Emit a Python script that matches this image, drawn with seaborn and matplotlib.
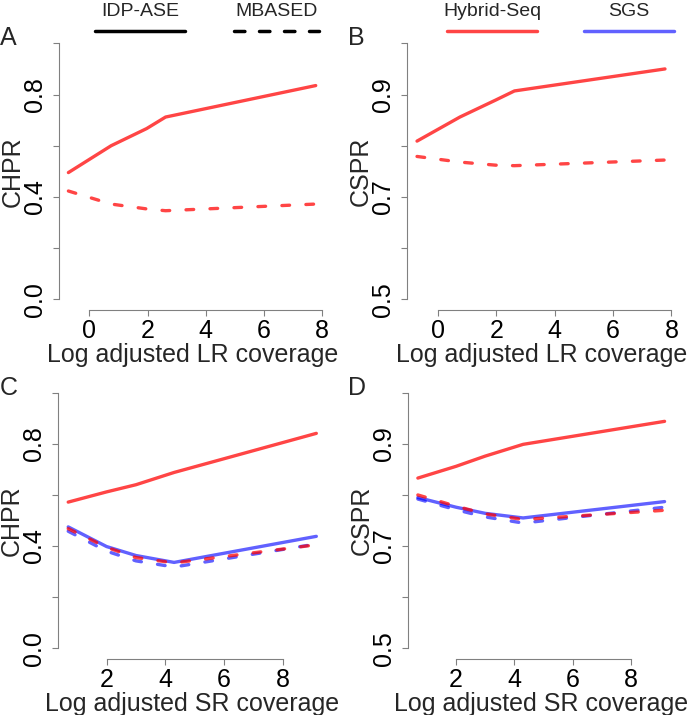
import matplotlib
matplotlib.use("Agg")
import matplotlib.pyplot as plt
import seaborn as sns
import numpy as np

sns.set_style("ticks")
plt.rcParams["font.family"] = ["Liberation Sans", "DejaVu Sans"]

# ---- data ----
lr_cov = [-0.72, 0.75, 1.97, 2.62, 7.78]
sr_cov = [0.69, 2.0, 3.0, 4.3, 9.15]

chpr_lr_hybrid_idp = [0.495, 0.600, 0.667, 0.712, 0.835]
chpr_lr_hybrid_mbased = [0.423, 0.372, 0.353, 0.346, 0.372]
cspr_lr_hybrid_idp = [0.809, 0.856, 0.889, 0.907, 0.950]
cspr_lr_hybrid_mbased = [0.779, 0.768, 0.762, 0.761, 0.772]

chpr_sr_hybrid_idp = [0.572, 0.612, 0.640, 0.688, 0.841]
chpr_sr_hybrid_mbased = [0.468, 0.395, 0.355, 0.334, 0.405]
chpr_sr_sgs_idp = [0.475, 0.398, 0.363, 0.336, 0.438]
chpr_sr_sgs_mbased = [0.458, 0.380, 0.342, 0.318, 0.408]

cspr_sr_hybrid_idp = [0.833, 0.856, 0.876, 0.899, 0.944]
cspr_sr_hybrid_mbased = [0.800, 0.778, 0.763, 0.752, 0.770]
cspr_sr_sgs_idp = [0.795, 0.776, 0.764, 0.755, 0.787]
cspr_sr_sgs_mbased = [0.792, 0.771, 0.757, 0.745, 0.776]

methods = ["IDP-ASE", "MBASED"]
platforms = ["Hybrid-Seq", "SGS"]
panel_letters = ["A", "B", "C", "D"]

# ---- style ----
RED = "#FF0000"
BLUE = "#0000FF"
ALPHA = {RED: 0.73, BLUE: 0.62}
LW = 2.4
DASH = (0, (2.3, 4.9))
AX_COLOR = "#808080"
FS = 18

W, H = 692, 715
fig = plt.figure(figsize=(W / 100, H / 100), dpi=100)


def add_ax(l, r, t, b):
    return fig.add_axes([l / W, 1 - b / H, (r - l) / W, (b - t) / H])


def style_ax(ax, xlim, ylim, xticks, yticks, ylabels, xlabel, ylabel, ybounds, xbounds):
    ax.set_xlim(*xlim)
    ax.set_ylim(*ylim)
    for s in ["top", "right"]:
        ax.spines[s].set_visible(False)
    for s in ["left", "bottom"]:
        ax.spines[s].set_color(AX_COLOR)
        ax.spines[s].set_linewidth(0.8)
    ax.spines["left"].set_bounds(*ybounds)
    ax.spines["bottom"].set_bounds(*xbounds)
    ax.set_xticks(xticks)
    ax.set_xticklabels([str(v) for v in xticks])
    ax.set_yticks(yticks)
    ax.set_yticklabels(ylabels, rotation=90, va="center")
    ax.tick_params(axis="both", length=4.5, width=0.8, color=AX_COLOR,
                   labelsize=FS, labelcolor="black")
    ax.tick_params(axis="x", pad=2)
    ax.tick_params(axis="y", pad=4)
    ax.set_xlabel(xlabel, fontsize=FS, labelpad=0)
    ax.set_ylabel(ylabel, fontsize=FS)
    ax.yaxis.set_label_coords(-0.128, 0.5)
    ax.grid(False)


def draw(ax, x, y, color, dashed):
    sns.lineplot(x=x, y=y, ax=ax, color=color, alpha=ALPHA[color], lw=LW,
                 linestyle=DASH if dashed else "-", errorbar=None,
                 solid_capstyle="round", dash_capstyle="round")


# Panel A
axA = add_ax(58.5, 325.9, 33.1, 309.5)
draw(axA, lr_cov, chpr_lr_hybrid_idp, RED, False)
draw(axA, lr_cov, chpr_lr_hybrid_mbased, RED, True)
style_ax(axA, (-1.06, 8.13), (-0.04, 1.04), [0, 2, 4, 6, 8],
         [0, 0.2, 0.4, 0.6, 0.8, 1.0], ["0.0", "", "0.4", "", "0.8", ""],
         "Log adjusted LR coverage", "CHPR", (0, 1.0), (0, 8))

# Panel B
axB = add_ax(407.1, 675.2, 33.1, 309.5)
draw(axB, lr_cov, cspr_lr_hybrid_idp, RED, False)
draw(axB, lr_cov, cspr_lr_hybrid_mbased, RED, True)
style_ax(axB, (-1.06, 8.13), (0.48, 1.02), [0, 2, 4, 6, 8],
         [0.5, 0.6, 0.7, 0.8, 0.9, 1.0], ["0.5", "", "0.7", "", "0.9", ""],
         "Log adjusted LR coverage", "CSPR", (0.5, 1.0), (0, 8))

# Panel C
axC = add_ax(58.3, 326.0, 382.5, 658.5)
draw(axC, sr_cov, chpr_sr_sgs_idp, BLUE, False)
draw(axC, sr_cov, chpr_sr_sgs_mbased, BLUE, True)
draw(axC, sr_cov, chpr_sr_hybrid_idp, RED, False)
draw(axC, sr_cov, chpr_sr_hybrid_mbased, RED, True)
style_ax(axC, (0.352, 9.48), (-0.04, 1.04), [2, 4, 6, 8],
         [0, 0.2, 0.4, 0.6, 0.8, 1.0], ["0.0", "", "0.4", "", "0.8", ""],
         "Log adjusted SR coverage", "CHPR", (0, 1.0), (2, 8))

# Panel D
axD = add_ax(408.0, 674.2, 382.5, 658.5)
draw(axD, sr_cov, cspr_sr_sgs_idp, BLUE, False)
draw(axD, sr_cov, cspr_sr_sgs_mbased, BLUE, True)
draw(axD, sr_cov, cspr_sr_hybrid_idp, RED, False)
draw(axD, sr_cov, cspr_sr_hybrid_mbased, RED, True)
style_ax(axD, (0.352, 9.48), (0.48, 1.02), [2, 4, 6, 8],
         [0.5, 0.6, 0.7, 0.8, 0.9, 1.0], ["0.5", "", "0.7", "", "0.9", ""],
         "Log adjusted SR coverage", "CSPR", (0.5, 1.0), (2, 8))

# Panel letters
for letter, (px, py) in zip(panel_letters, [(0, 45), (348, 45), (0, 395), (348, 395)]):
    fig.text(px / W, 1 - py / H, letter, fontsize=FS, ha="left", va="baseline")

# Top legends (figure-level overlay in pixel coordinates)
ov = fig.add_axes([0, 0, 1, 1], facecolor="none")
ov.set_xlim(0, W)
ov.set_ylim(H, 0)
ov.axis("off")
legend_items = [
    (methods[0], "black", 1.0, False, 95, 185),
    (methods[1], "black", 1.0, True, 234, 319),
    (platforms[0], RED, ALPHA[RED], False, 447, 537),
    (platforms[1], BLUE, ALPHA[BLUE], False, 584, 674),
]
for label, col, a, dashed, x0, x1 in legend_items:
    ov.plot([x0, x1], [31, 31], color=col, alpha=a, lw=2.5,
            linestyle=(0, (3.0, 4.2)) if dashed else "-",
            solid_capstyle="round", dash_capstyle="round")
    ov.text((x0 + x1) / 2, 11, label, fontsize=14, ha="center", va="center")

fig.savefig("out.png", dpi=100)
